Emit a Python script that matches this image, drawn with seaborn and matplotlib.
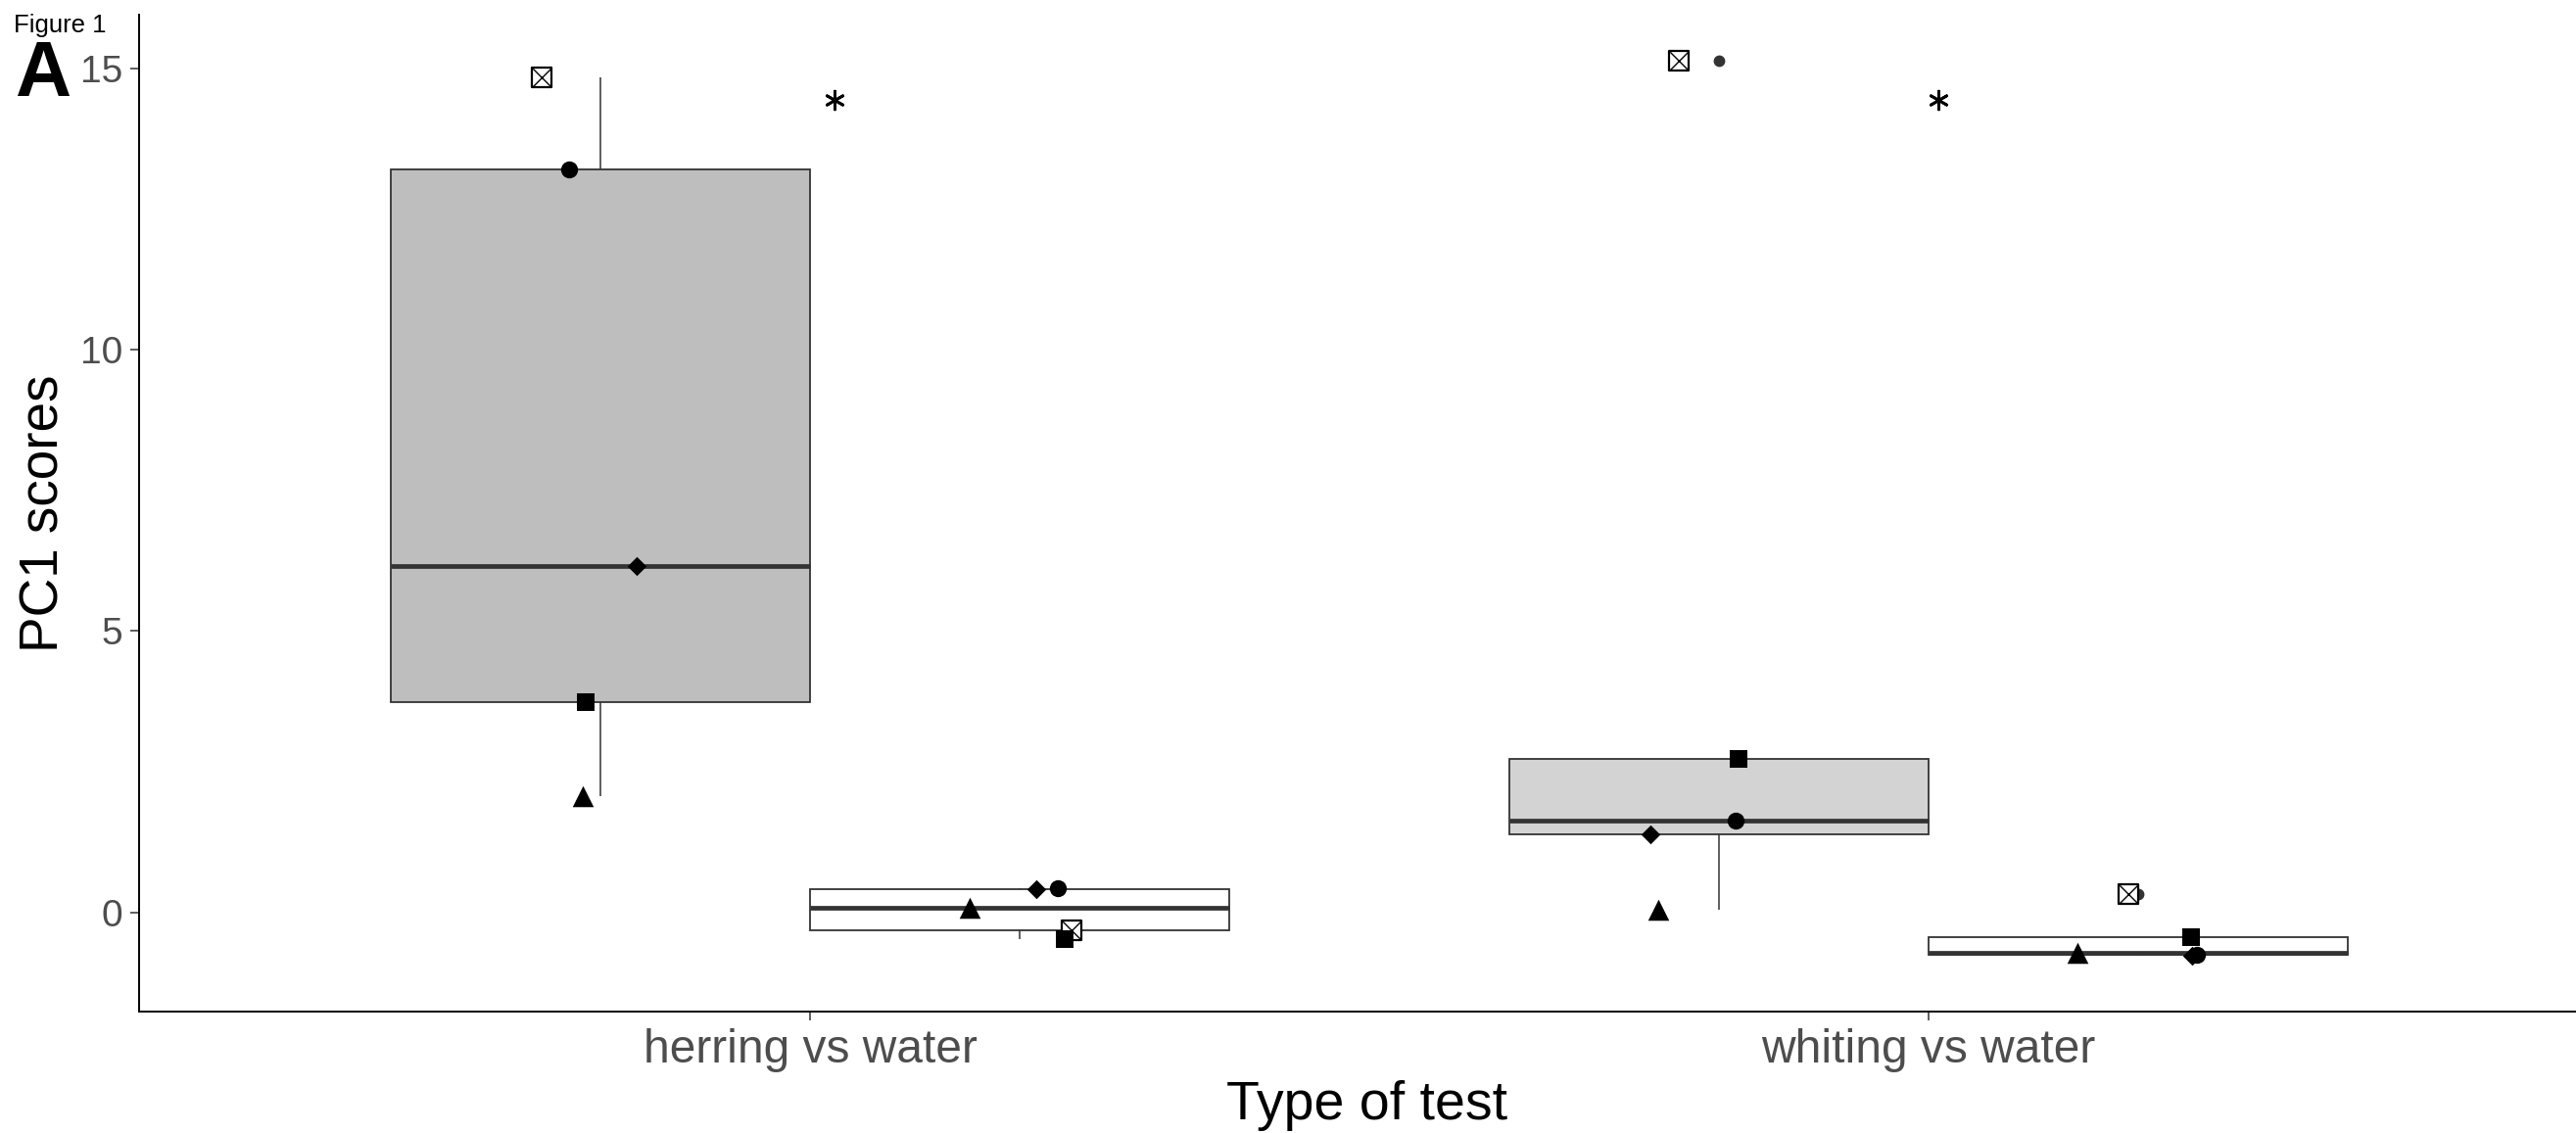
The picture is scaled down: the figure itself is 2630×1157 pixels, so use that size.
import numpy as np
import pandas as pd
import seaborn as sns
import matplotlib.pyplot as plt
from matplotlib.path import Path

# ---- data ----
tests = ["herring vs water", "whiting vs water"]
stimuli = ["fish", "water"]
individuals = ["1", "2", "3", "4", "5"]

herring_fish = [14.84, 13.2, 6.15, 3.73, 2.07]
herring_water = [-0.31, 0.44, 0.42, -0.47, 0.09]
whiting_fish = [15.13, 1.64, 1.39, 2.73, 0.05]
whiting_water = [0.33, -0.75, -0.77, -0.44, -0.72]

sig_labels = ["*", "*"]
sig_y = [14.43, 14.43]

# horizontal jitter of the points (as drawn)
herring_fish_jit = [-0.053, -0.028, 0.032, -0.013, -0.016]
herring_water_jit = [0.046, 0.034, 0.015, 0.040, -0.045]
whiting_fish_jit = [-0.036, 0.015, -0.061, 0.018, -0.054]
whiting_water_jit = [-0.009, 0.052, 0.048, 0.047, -0.054]
sig_nudge = [0.022, 0.009]

rows = []
groups = [
    (tests[0], stimuli[0], herring_fish, herring_fish_jit),
    (tests[0], stimuli[1], herring_water, herring_water_jit),
    (tests[1], stimuli[0], whiting_fish, whiting_fish_jit),
    (tests[1], stimuli[1], whiting_water, whiting_water_jit),
]
for test, stim, vals, jit in groups:
    for ind, v, j in zip(individuals, vals, jit):
        rows.append({"test": test, "stimulus": stim, "individual": ind,
                     "pc1": v, "jit": j})
df = pd.DataFrame(rows)

# ---- style ----
sns.set_style("white")
plt.rcParams["font.family"] = ["Liberation Sans", "DejaVu Sans"]

W, H = 2630, 1157
fig = plt.figure(figsize=(W / 100, H / 100), dpi=100)
ax = fig.add_axes([142 / W, 1 - 1033 / H, (W - 142) / W, (1033 - 15) / H])

dodge_w = 0.75
sns.boxplot(data=df, x="test", y="pc1", hue="stimulus", order=tests,
            hue_order=stimuli, palette={"fish": "#BEBEBE", "water": "white"},
            saturation=1, width=dodge_w, gap=0, linecolor="#333333",
            linewidth=1.3, fliersize=7.5, showcaps=False, legend=False,
            flierprops={"marker": "o", "markerfacecolor": "#333333",
                        "markeredgecolor": "#333333"},
            medianprops={"linewidth": 3.4},
            whiskerprops={"linewidth": 1.1}, ax=ax)

# the whiting odour box is a lighter grey
for p in ax.patches:
    v = p.get_path().vertices
    cx = (v[:, 0].min() + v[:, 0].max()) / 2
    if abs(cx - (1 - dodge_w / 4)) < 0.05:
        p.set_facecolor("#D3D3D3")

diamond = Path([(0, 1), (1, 0), (0, -1), (-1, 0), (0, 1)],
               [Path.MOVETO, Path.LINETO, Path.LINETO, Path.LINETO, Path.CLOSEPOLY])
shape_style = {
    "1": ("s", 14.5),
    "2": ("o", 12.5),
    "3": (diamond, 14.0),
    "4": ("s", 13.0),
    "5": ("^", 15.5),
}

test_pos = {t: i for i, t in enumerate(tests)}
stim_off = {stimuli[0]: -dodge_w / 4, stimuli[1]: dodge_w / 4}
df["xpos"] = df["test"].map(test_pos) + df["stimulus"].map(stim_off) + df["jit"]

for ind in individuals:
    sub = df[df["individual"] == ind]
    mk, ms = shape_style[ind]
    if ind == "1":
        ax.scatter(sub["xpos"], sub["pc1"], marker="s", s=ms ** 2,
                   facecolor="white", edgecolor="black", linewidth=1.6, zorder=5)
        ax.scatter(sub["xpos"], sub["pc1"], marker="x", s=(ms * 0.92) ** 2,
                   color="black", linewidth=1.0, zorder=6)
    else:
        ax.scatter(sub["xpos"], sub["pc1"], marker=mk, s=ms ** 2,
                   color="black", linewidth=0, zorder=5)

for i, (lab, yv) in enumerate(zip(sig_labels, sig_y)):
    ax.scatter([i + sig_nudge[i]], [yv], marker=(6, 2, 0), s=13.5 ** 2,
               color="black", linewidth=2.0, zorder=6)

ax.set_xlim(-0.6, (W - 1969) / 1142 + 1)
ax.set_ylim(-1.76, 15.95)
ax.set_yticks([0, 5, 10, 15])
ax.set_xticks([0, 1])
ax.set_xticklabels(tests)
ax.set_xlabel("")
ax.set_ylabel("")

for s in ["top", "right"]:
    ax.spines[s].set_visible(False)
for s in ["left", "bottom"]:
    ax.spines[s].set_linewidth(1.4)
    ax.spines[s].set_color("black")

ax.tick_params(axis="both", which="major", direction="out", length=6.5,
               width=1.1, color="#333333", labelcolor="#4D4D4D")
ax.tick_params(axis="y", labelsize=28, pad=5.8, left=True)
ax.tick_params(axis="x", labelsize=34.5, pad=5.8, bottom=True)

fig.text(1396 / W, 1 - 1143 / H, "Type of test", fontsize=40,
         ha="center", va="baseline", color="black")
fig.text(60 / W, 1 - 524 / H, "PC1 scores", fontsize=39.5, rotation=90,
         rotation_mode="anchor", ha="center", va="baseline", color="black")
fig.text(14 / W, 1 - 33.4 / H, "Figure 1", fontsize=18.5,
         ha="left", va="baseline", color="black")
fig.text(15 / W, 1 - 98 / H, "A", fontsize=57, fontweight="bold",
         ha="left", va="baseline", color="black")

fig.savefig("out.png", dpi=100)
